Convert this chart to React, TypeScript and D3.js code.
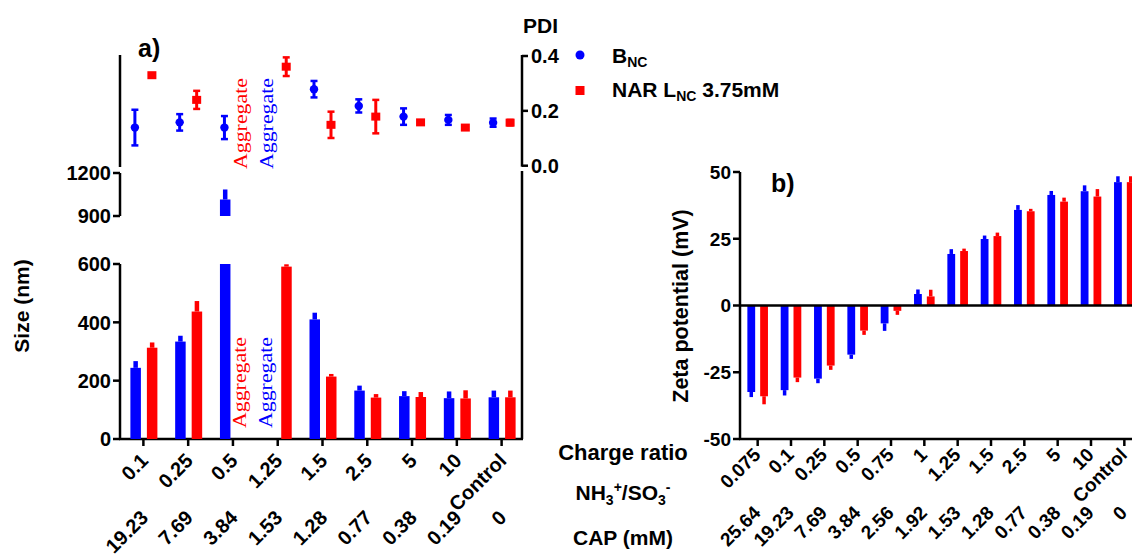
import React from "react";
import * as d3 from "d3";

// ---------- Data ----------
const sizeCategories = ["0.1", "0.25", "0.5", "1.25", "1.5", "2.5", "5", "10", "Control"];
const sizeCapLabels = ["19.23", "7.69", "3.84", "1.53", "1.28", "0.77", "0.38", "0.19", "0"];
const sizeB: (number | null)[] = [244, 334, 1015, null, 410, 166, 147, 140, 143];
const sizeBErr: (number | null)[] = [23, 20, 70, null, 23, 17, 17, 23, 23];
const sizeN: (number | null)[] = [313, 437, null, 591, 214, 142, 144, 139, 143];
const sizeNErr: (number | null)[] = [18, 36, null, 8, 9, 12, 17, 28, 23];
const pdiB: (number | null)[] = [0.139, 0.158, 0.139, null, 0.279, 0.218, 0.179, 0.167, 0.157];
const pdiBErr: (number | null)[] = [0.065, 0.03, 0.042, null, 0.03, 0.024, 0.03, 0.018, 0.015];
const pdiN: (number | null)[] = [0.33, 0.24, null, 0.361, 0.149, 0.179, 0.158, 0.139, 0.157];
const pdiNErr: (number | null)[] = [0.005, 0.033, null, 0.034, 0.048, 0.061, 0.007, 0.008, 0.01];

const zetaCategories = ["0.075", "0.1", "0.25", "0.5", "0.75", "1", "1.25", "1.5", "2.5", "5", "10", "Control"];
const zetaCapLabels = ["25.64", "19.23", "7.69", "3.84", "2.56", "1.92", "1.53", "1.28", "0.77", "0.38", "0.19", "0"];
const zetaB = [-32.4, -31.7, -27.4, -18.4, -6.7, 4.3, 19.3, 24.9, 35.8, 41.4, 42.8, 46.2];
const zetaBErr = [1.9, 2.0, 1.7, 1.6, 2.8, 1.7, 1.8, 1.3, 1.8, 1.5, 2.2, 2.2];
const zetaN = [-34.0, -27.0, -22.5, -9.4, -2.0, 3.4, 20.4, 26.0, 35.3, 38.9, 40.8, 46.2];
const zetaNErr = [3.0, 1.7, 1.6, 1.6, 1.5, 2.5, 0.9, 1.3, 0.9, 1.5, 2.8, 2.2];

const sizeTicksLow = [0, 200, 400, 600];
const sizeTicksHigh = [900, 1200];
const pdiTicks = [0, 0.2, 0.4];
const zetaTicks = [-50, -25, 0, 25, 50];

const BLUE = "#0000ff";
const RED = "#ff0000";
const SANS = "'Liberation Sans', Arial, sans-serif";
const SERIF = "'Liberation Serif', 'Times New Roman', serif";

export default function App() {
  // panel a scales
  const xA = d3.scaleBand<string>().domain(sizeCategories).range([121, 524]);
  const yLow = d3.scaleLinear().domain([0, 600]).range([439, 264]);
  const yHigh = d3.scaleLinear().domain([900, 1200]).range([216, 173]);
  const yPdi = d3.scaleLinear().domain([0, 0.4]).range([165.7, 56]);
  // panel b scales
  const xB = d3.scaleBand<string>().domain(zetaCategories).range([741, 1141]);
  const yZ = d3.scaleLinear().domain([-50, 50]).range([439, 172]);

  const cA = (c: string) => (xA(c) as number) + xA.bandwidth() / 2;
  const cB = (c: string) => (xB(c) as number) + xB.bandwidth() / 2;

  const AX = 120; // left axis x (panel a)
  const AR = 522; // right axis x (panel a)
  const BX = 740; // left axis x (panel b)
  const lw = 2.5;

  const sizeBars = (vals: (number | null)[], errs: (number | null)[], color: string, dx: number, w: number) =>
    vals.map((v, i) => {
      if (v == null) return null;
      const c = cA(sizeCategories[i]);
      const x = c + dx;
      const e = errs[i] ?? 0;
      const sw = 4.5;
      const sx = x + w / 2 - sw / 2;
      if (v <= 600) {
        return (
          <g key={color + i}>
            <rect x={x} y={yLow(v)} width={w} height={yLow(0) - yLow(v)} fill={color} />
            <rect x={sx} y={yLow(v + e)} width={sw} height={yLow(v) - yLow(v + e)} fill={color} />
          </g>
        );
      }
      return (
        <g key={color + i}>
          <rect x={x} y={yLow(600)} width={w} height={yLow(0) - yLow(600)} fill={color} />
          <rect x={x} y={yHigh(v)} width={w} height={yHigh(900) - yHigh(v)} fill={color} />
          <rect x={sx} y={yHigh(v + e)} width={sw} height={yHigh(v) - yHigh(v + e)} fill={color} />
        </g>
      );
    });

  const pdiPoints = (vals: (number | null)[], errs: (number | null)[], color: string, dx: number, square: boolean) =>
    vals.map((v, i) => {
      if (v == null) return null;
      const x = cA(sizeCategories[i]) + dx;
      const e = errs[i] ?? 0;
      const y = yPdi(v);
      const y1 = yPdi(v + e);
      const y2 = yPdi(v - e);
      return (
        <g key={color + "p" + i}>
          <line x1={x} x2={x} y1={y1} y2={y2} stroke={color} strokeWidth={3} />
          <line x1={x - 3.5} x2={x + 3.5} y1={y1} y2={y1} stroke={color} strokeWidth={2.5} />
          <line x1={x - 3.5} x2={x + 3.5} y1={y2} y2={y2} stroke={color} strokeWidth={2.5} />
          {square ? (
            <rect x={x - 4.5} y={y - 4} width={9} height={8} fill={color} />
          ) : (
            <circle cx={x} cy={y} r={4.2} fill={color} />
          )}
        </g>
      );
    });

  const zetaBars = (vals: number[], errs: number[], color: string, dx: number, w: number) =>
    vals.map((v, i) => {
      const c = cB(zetaCategories[i]);
      const x = c + dx;
      const e = errs[i];
      const sw = 3.5;
      const sx = x + w / 2 - sw / 2;
      const top = Math.min(yZ(v), yZ(0));
      const h = Math.abs(yZ(v) - yZ(0));
      const ve = v >= 0 ? v + e : v - e;
      const st = Math.min(yZ(v), yZ(ve));
      const sh = Math.abs(yZ(ve) - yZ(v));
      return (
        <g key={color + "z" + i}>
          <rect x={x} y={top} width={w} height={h} fill={color} />
          <rect x={sx} y={st} width={sw} height={sh} fill={color} />
        </g>
      );
    });

  return (
    <svg
      width={1132}
      height={558}
      style={{ position: "absolute", left: 0, top: 0, background: "#fff" }}
      fontFamily={SANS}
      fontWeight="bold"
    >
      <rect x={0} y={0} width={1132} height={558} fill="#fff" />

      {/* ---------- Panel a ---------- */}
      <text x={138} y={57} fontSize={25}>a)</text>
      <text x={523} y={33} fontSize={21}>PDI</text>

      {/* PDI left segment */}
      <line x1={AX} x2={AX} y1={55} y2={167} stroke="#000" strokeWidth={lw} />
      {/* PDI right axis */}
      <line x1={AR} x2={AR} y1={yPdi(0.4) - 1} y2={yPdi(0) + 1} stroke="#000" strokeWidth={lw} />
      {pdiTicks.map((t) => (
        <g key={"pt" + t}>
          <line x1={AR} x2={AR + 6} y1={yPdi(t)} y2={yPdi(t)} stroke="#000" strokeWidth={lw} />
          <text x={AR + 9} y={yPdi(t)} dy="0.36em" fontSize={20}>{t.toFixed(1)}</text>
        </g>
      ))}

      {/* Size axes */}
      <line x1={AX} x2={AX} y1={yHigh(1200)} y2={yHigh(900)} stroke="#000" strokeWidth={lw} />
      <line x1={AX} x2={AX} y1={yLow(600)} y2={yLow(0)} stroke="#000" strokeWidth={lw} />
      {sizeTicksHigh.map((t) => (
        <g key={"sh" + t}>
          <line x1={AX - 7} x2={AX} y1={yHigh(t)} y2={yHigh(t)} stroke="#000" strokeWidth={lw} />
          <text x={AX - 9} y={yHigh(t)} dy="0.36em" fontSize={20} textAnchor="end">{t}</text>
        </g>
      ))}
      {sizeTicksLow.map((t) => (
        <g key={"sl" + t}>
          <line x1={AX - 7} x2={AX} y1={yLow(t)} y2={yLow(t)} stroke="#000" strokeWidth={lw} />
          <text x={AX - 9} y={yLow(t)} dy="0.36em" fontSize={20} textAnchor="end">{t}</text>
        </g>
      ))}
      {/* right border of size area */}
      <line x1={AR} x2={AR} y1={171} y2={yLow(0)} stroke="#000" strokeWidth={lw} />
      {/* bottom axis */}
      <line x1={AX - 1} x2={AR + 1} y1={yLow(0)} y2={yLow(0)} stroke="#000" strokeWidth={lw} />
      {sizeCategories.map((c) => (
        <line key={"xt" + c} x1={cA(c)} x2={cA(c)} y1={yLow(0)} y2={yLow(0) + 7} stroke="#000" strokeWidth={lw} />
      ))}

      <text transform={`translate(29,306) rotate(-90)`} textAnchor="middle" fontSize={21}>Size (nm)</text>

      {sizeBars(sizeB, sizeBErr, BLUE, -13, 10.5)}
      {sizeBars(sizeN, sizeNErr, RED, 3.5, 10.5)}
      {pdiPoints(pdiB, pdiBErr, BLUE, -8.5, false)}
      {pdiPoints(pdiN, pdiNErr, RED, 8.5, true)}

      {/* Aggregate notes */}
      <g fontFamily={SERIF} fontWeight="normal" fontSize={19}>
        <text transform="translate(247,169) rotate(-90)" fill={RED} textLength={91} lengthAdjust="spacingAndGlyphs">Aggregate</text>
        <text transform="translate(273,169) rotate(-90)" fill={BLUE} textLength={91} lengthAdjust="spacingAndGlyphs">Aggregate</text>
        <text transform="translate(246,428) rotate(-90)" fill={RED} textLength={91} lengthAdjust="spacingAndGlyphs">Aggregate</text>
        <text transform="translate(272,428) rotate(-90)" fill={BLUE} textLength={91} lengthAdjust="spacingAndGlyphs">Aggregate</text>
      </g>

      {/* x labels panel a */}
      {sizeCategories.map((c) => (
        <text key={"xl" + c} transform={`translate(${cA(c) + 6},${462}) rotate(-45)`} textAnchor="end" fontSize={20}>{c}</text>
      ))}
      {sizeCategories.map((c, i) => (
        <text key={"xc" + c} transform={`translate(${cA(c) + 6},${519}) rotate(-45)`} textAnchor="end" fontSize={20}>{sizeCapLabels[i]}</text>
      ))}

      {/* Legend */}
      <circle cx={580} cy={55} r={4.5} fill={BLUE} />
      <text x={612} y={63} fontSize={21}>B<tspan dy={4} fontSize={14}>NC</tspan></text>
      <rect x={575.5} y={86} width={9} height={9} fill={RED} />
      <text x={612} y={97} fontSize={21}>NAR L<tspan dy={4} fontSize={14}>NC</tspan><tspan dy={-4}> 3.75mM</tspan></text>

      {/* Middle row titles */}
      <text x={623} y={460} textAnchor="middle" fontSize={22}>Charge ratio</text>
      <text x={623} y={500} textAnchor="middle" fontSize={21}>
        NH<tspan dy={5} fontSize={14}>3</tspan><tspan dy={-13} fontSize={14}>+</tspan><tspan dy={8}>/SO</tspan><tspan dy={5} fontSize={14}>3</tspan><tspan dy={-13} fontSize={14}>-</tspan>
      </text>
      <text x={623} y={545} textAnchor="middle" fontSize={21}>CAP (mM)</text>

      {/* ---------- Panel b ---------- */}
      <text x={771} y={192} fontSize={25}>b)</text>
      <line x1={BX} x2={BX} y1={yZ(50)} y2={yZ(-50)} stroke="#000" strokeWidth={lw} />
      {zetaTicks.map((t) => (
        <g key={"zt" + t}>
          <line x1={BX - 7} x2={BX} y1={yZ(t)} y2={yZ(t)} stroke="#000" strokeWidth={lw} />
          <text x={BX - 9} y={yZ(t)} dy="0.36em" fontSize={19} textAnchor="end">{t}</text>
        </g>
      ))}
      <line x1={BX - 1} x2={1132} y1={yZ(-50)} y2={yZ(-50)} stroke="#000" strokeWidth={lw} />
      {zetaCategories.map((c) => (
        <line key={"bt" + c} x1={cB(c)} x2={cB(c)} y1={yZ(-50)} y2={yZ(-50) + 7} stroke="#000" strokeWidth={lw} />
      ))}
      <text transform={`translate(688,306) rotate(-90)`} textAnchor="middle" fontSize={21.5}>Zeta potential (mV)</text>

      {zetaBars(zetaB, zetaBErr, BLUE, -10.3, 7.8)}
      {zetaBars(zetaN, zetaNErr, RED, 2.5, 7.8)}
      <line x1={BX} x2={1132} y1={yZ(0)} y2={yZ(0)} stroke="#000" strokeWidth={lw} />

      {zetaCategories.map((c) => (
        <text key={"zl" + c} transform={`translate(${cB(c) + 4},${456}) rotate(-45)`} textAnchor="end" fontSize={19}>{c}</text>
      ))}
      {zetaCategories.map((c, i) => (
        <text key={"zc" + c} transform={`translate(${cB(c) + 4},${514}) rotate(-45)`} textAnchor="end" fontSize={19}>{zetaCapLabels[i]}</text>
      ))}
    </svg>
  );
}
